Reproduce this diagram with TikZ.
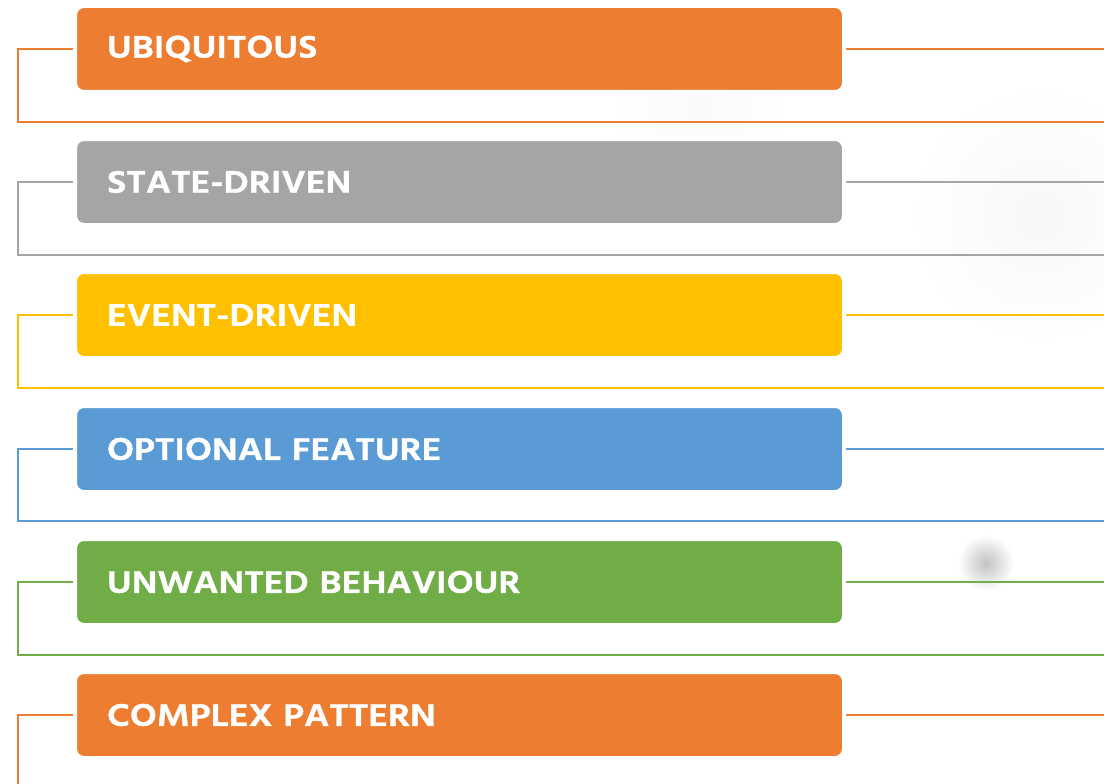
\documentclass[tikz,border=0pt]{standalone}
\usepackage{fontspec}
\newfontfamily\barfont{Hind Siliguri}[FakeStretch=1.17, FakeBold=1.2]
\usetikzlibrary{calc}
\definecolor{ubiqcol}{HTML}{ED7D31}
\definecolor{statecol}{HTML}{A5A5A5}
\definecolor{eventcol}{HTML}{FFC000}
\definecolor{optcol}{HTML}{5B9BD5}
\definecolor{unwantcol}{HTML}{70AD47}
\pgfdeclarelayer{background}
\pgfsetlayers{background,main}
\tikzset{
  bar/.style={draw=white, line width=4pt, rounded corners=9pt,
              anchor=north west, minimum height=86pt,
              text width=705pt, inner xsep=32pt, align=left,
              text=white, font=\barfont\bfseries\fontsize{32}{32}\selectfont},
  link/.style={line width=2pt},
  haze/.style={inner color=black!24, outer color=white},
}

\begin{document}
\begin{tikzpicture}[x=1pt, y=-1pt]
    \useasboundingbox (0,0) rectangle (1104,784);
    \node[bar, fill=ubiqcol] (ubiq) at (73, 4) {UBIQUITOUS};
    \node[bar, fill=statecol] (state) at (73, 137) {STATE-DRIVEN};
    \node[bar, fill=eventcol] (event) at (73, 270) {EVENT-DRIVEN};
    \node[bar, fill=optcol] (opt) at (73, 404) {OPTIONAL FEATURE};
    \node[bar, fill=unwantcol] (unwant) at (73, 537) {UNWANTED BEHAVIOUR};
    \node[bar, fill=ubiqcol] (complex) at (73, 670) {COMPLEX PATTERN};

    % corners of each bracket and the right edge
    \coordinate (l1) at (18, 122); \coordinate (r1) at (1104, 122);
    \coordinate (l2) at (18, 255); \coordinate (r2) at (1104, 255);
    \coordinate (l3) at (18, 388); \coordinate (r3) at (1104, 388);
    \coordinate (l4) at (18, 521); \coordinate (r4) at (1104, 521);
    \coordinate (l5) at (18, 655); \coordinate (r5) at (1104, 655);
    \coordinate (l6) at (18, 790); \coordinate (r6) at (1104, 790);
    \coordinate (e1) at (ubiq.east -| r1);
    \coordinate (e2) at (state.east -| r2);
    \coordinate (e3) at (event.east -| r3);
    \coordinate (e4) at (opt.east -| r4);
    \coordinate (e5) at (unwant.east -| r5);
    \coordinate (e6) at (complex.east -| r6);

    \begin{pgfonlayer}{background}
      % soft grey patches behind
      \shade[inner color=black!3, outer color=white] (1040, 215) circle (130);
      \shade[inner color=black!2, outer color=white] (700, 110) circle (90);
      \shade[haze] (986, 563) circle (28);
      \draw[link, ubiqcol] (ubiq.west) -| (l1) -- (r1);
      \draw[link, ubiqcol] (ubiq.east) -- (e1);
      \draw[link, statecol] (state.west) -| (l2) -- (r2);
      \draw[link, statecol] (state.east) -- (e2);
      \draw[link, eventcol] (event.west) -| (l3) -- (r3);
      \draw[link, eventcol] (event.east) -- (e3);
      \draw[link, optcol] (opt.west) -| (l4) -- (r4);
      \draw[link, optcol] (opt.east) -- (e4);
      \draw[link, unwantcol] (unwant.west) -| (l5) -- (r5);
      \draw[link, unwantcol] (unwant.east) -- (e5);
      \draw[link, ubiqcol] (complex.west) -| (l6) -- (r6);
      \draw[link, ubiqcol] (complex.east) -- (e6);
    \end{pgfonlayer}
\end{tikzpicture}
\end{document}
